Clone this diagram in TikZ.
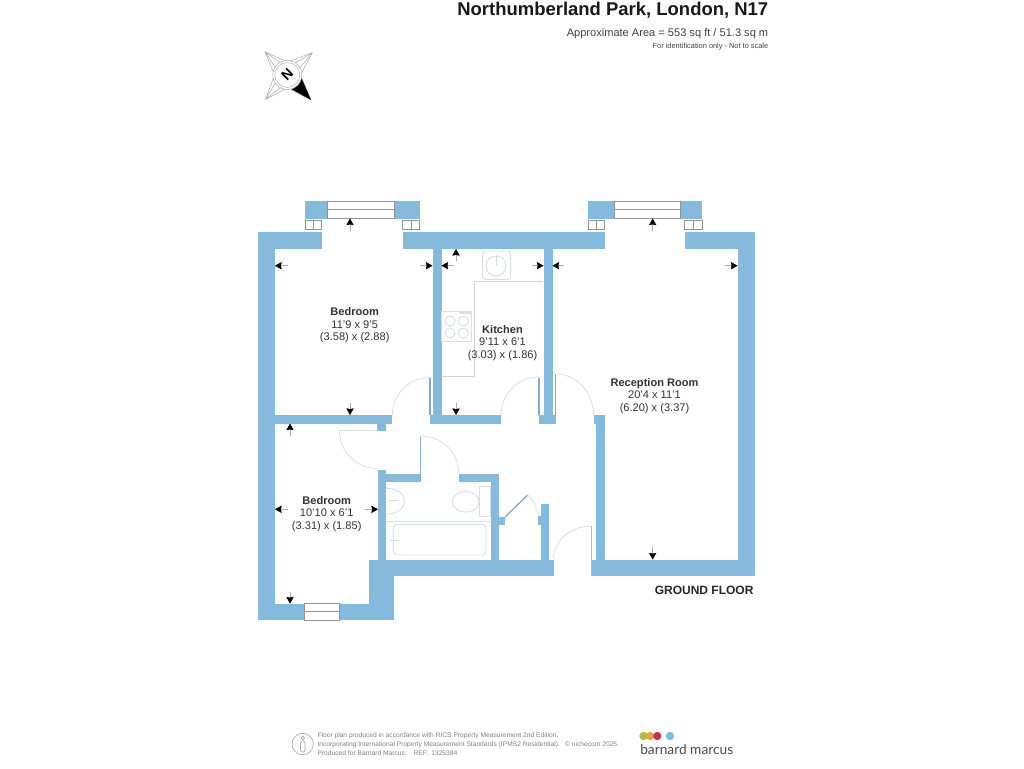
\documentclass[tikz,border=0pt]{standalone}
\usepackage{fontspec}
\setmainfont{Liberation Sans}
\newfontfamily\logofont{Lato}
\usetikzlibrary{arrows.meta}
\definecolor{wallblue}{HTML}{86BADD}
\definecolor{fixline}{HTML}{D5DFE8}
\definecolor{footgray}{HTML}{808080}
\tikzset{
  wall/.style={fill=wallblue, draw=none},
  win/.style={draw=gray!85, line width=.6pt, fill=white},
  doorarc/.style={draw=fixline, line width=.6pt},
  doorleaf/.style={draw=wallblue!75!gray, line width=.8pt},
  fixture/.style={draw=fixline, line width=.7pt},
  dimarrow/.style={draw=gray!65, line width=.35pt, -{Stealth[black,length=5pt,width=5.5pt,inset=.6pt]}},
  roomlabel/.style={align=center, inner sep=0pt, text=black!80, font=\fontsize{8.3}{9.3}\selectfont},
  footline/.style={anchor=west, inner sep=0pt, text=footgray, font=\fontsize{5}{5.5}\selectfont},
  compassline/.style={draw=gray!70, line width=.35pt}
}
\begin{document}
\begin{tikzpicture}[x=.75pt, y=-.75pt]
  \useasboundingbox (0,0) rectangle (1024,768);
  % heading
  \node (title) [anchor=east, inner sep=0pt, font=\fontsize{13.85}{16}\selectfont\bfseries, text=black!90] at (768.5,10) {Northumberland Park, London, N17};
  \node (area) [anchor=east, inner sep=0pt, text=black!75, font=\fontsize{8.3}{10}\selectfont] at (768.5,34) {Approximate Area = 553 sq ft / 51.3 sq m};
  \node (note) [anchor=east, inner sep=0pt, text=black!75, font=\fontsize{5.55}{7}\selectfont] at (768.5,47) {For identification only - Not to scale};
  % compass
  \draw[compassline, fill=white] (265,51.7) -- (287.3,62) -- (312.3,52.7) -- (300.5,75) -- (311,100) -- (287.3,88) -- (265.7,99.3) -- (274.5,75) -- cycle;
  \draw[compassline] (265,51.7) -- (280,75) (265,51.7) -- (287.3,68) (312.3,52.7) -- (294,75) (312.3,52.7) -- (287.3,68) (265.7,99.3) -- (280,75) (265.7,99.3) -- (287.3,82);
  \fill[black] (311,100) -- (301,77) -- (292,89.5) -- cycle;
  \draw[compassline, fill=white] (287.3,75) circle (14.5);
  \draw[compassline] (287.3,75) circle (12.5);
  \node (north) [rotate=45, inner sep=0pt, font=\fontsize{10.5}{11}\selectfont\bfseries] at (287.3,75) {N};
  % walls
  \fill[wall] (258,232) rectangle (322,249);
  \fill[wall] (258,232) rectangle (275,620);
  \fill[wall] (305,201) rectangle (327.5,218.5);
  \fill[wall] (394,201) rectangle (419.5,218.5);
  \fill[wall] (402.5,232) rectangle (604.5,249);
  \fill[wall] (588,201) rectangle (614.5,218.5);
  \fill[wall] (680.5,201) rectangle (702,218.5);
  \fill[wall] (684.5,232) rectangle (754.5,249);
  \fill[wall] (737.5,232) rectangle (754.5,576);
  \fill[wall] (432.5,240) rectangle (441.5,423.5);
  \fill[wall] (430,415) rectangle (501,423.5);
  \fill[wall] (543.5,240) rectangle (552.5,423.5);
  \fill[wall] (538.5,415) rectangle (556,423.5);
  \fill[wall] (593.5,415) rectangle (604.5,423.5);
  \fill[wall] (596,415) rectangle (604.5,565);
  \fill[wall] (591.5,559.5) rectangle (754.5,576);
  \fill[wall] (258,603.5) rectangle (394,620);
  \fill[wall] (369,559.5) rectangle (394,620);
  \fill[wall] (369,559.5) rectangle (553.5,576);
  \fill[wall] (275,415) rectangle (391.5,423.5);
  \fill[wall] (377,420) rectangle (385.7,430.5);
  \fill[wall] (378,469.5) rectangle (385.7,565);
  \fill[wall] (378,473.5) rectangle (420.7,481.7);
  \fill[wall] (458.7,473.5) rectangle (499.3,481.7);
  \fill[wall] (490.7,473.5) rectangle (499.3,565);
  \fill[wall] (495,516.5) rectangle (505,524.7);
  \fill[wall] (540.7,504) rectangle (549.3,565);
  \fill[wall] (537.7,516) rectangle (545,525);
  % windows
  \draw[win] (327.5,201) rectangle (394.3,218.5);
  \draw[win] (327.5,209.5) -- (394.3,209.5);
  \draw[win] (614.5,201) rectangle (680.7,218.5);
  \draw[win] (614.5,209.5) -- (680.7,209.5);
  \draw[win] (304.5,603.5) rectangle (339.3,620);
  \draw[win] (304.5,611.5) -- (339.3,611.5);
  % vents
  \draw[win] (305,220) rectangle (321.7,229.3);
  \draw[win] (313.3,220) -- (313.3,229.3);
  \draw[win] (402.5,220) rectangle (419.5,229.3);
  \draw[win] (411,220) -- (411,229.3);
  \draw[win] (588,220) rectangle (604.5,229.3);
  \draw[win] (596.3,220) -- (596.3,229.3);
  \draw[win] (684.7,220) rectangle (702,229.3);
  \draw[win] (693.3,220) -- (693.3,229.3);
  % doors
  \draw[doorleaf] (430,377.7) -- (430,415);
  \draw[doorarc] (392.4,415) arc[start angle=180, end angle=270, radius=37.6];
  \draw[doorleaf] (539,377.7) -- (539,415);
  \draw[doorarc] (501,415) arc[start angle=180, end angle=270, radius=38];
  \draw[doorleaf] (555.8,374) -- (555.8,415);
  \draw[doorarc] (593.5,415) arc[start angle=0, end angle=-90, x radius=37.7, y radius=41];
  \draw[doorarc] (339.3,430) -- (378,430);
  \draw[doorarc] (339.3,430) arc[start angle=180, end angle=90, radius=38.7];
  \draw[doorleaf] (420.7,436) -- (420.7,481);
  \draw[doorarc] (420.7,436) arc[start angle=-90, end angle=0, x radius=38, y radius=37];
  \draw[doorleaf, line width=1pt] (505,517) -- (527.7,495);
  \draw[doorarc] (527.7,495) .. controls (533,500) and (537,508) .. (538.3,516);
  \draw[draw=gray!55, line width=.5pt] (591.7,526) -- (591.7,576);
  \draw[doorarc] (553.5,559) arc[start angle=180, end angle=270, x radius=38.2, y radius=33];
  % kitchen fittings
  \draw[fixture, draw=gray!35] (543.3,281.7) -- (474.3,281.7) -- (474.3,376.7) -- (441.5,376.7);
  \draw[fixture, rounded corners=2pt] (482.7,251) rectangle (510.7,279.3);
  \draw[fixture] (496,266) circle (10);
  \draw[fixture] (496,255) -- (496,266);
  \draw[fixture] (441.5,311.7) rectangle (471.7,341);
  \draw[fixture] (450,321) circle (5);
  \draw[fixture] (463.3,321) circle (5);
  \draw[fixture] (450,333) circle (5);
  \draw[fixture] (463.3,333) circle (5);
  \fill[fixline] (459,312) rectangle (471,314);
  % bathroom fittings
  \draw[fixture] (386,488.3) .. controls (397,488.3) and (404.3,493) .. (404.3,501) .. controls (404.3,509) and (397,514) .. (386,514);
  \draw[fixture] (388,500) -- (398,500);
  \draw[fixture] (465.7,501.7) ellipse (13.5 and 10.3);
  \draw[fixture, fill=white] (479,486.7) rectangle (490.5,516.7);
  \draw[fixture] (385.7,521) -- (490.7,521);
  \draw[fixture, rounded corners=3pt] (393.3,524.3) rectangle (486,555);
  \draw[fixture] (390,540) -- (399,540);
  % measuring arrows
  \draw[dimarrow] (287.7,265.7) -- (275,265.7);
  \draw[dimarrow] (420,265.7) -- (432.5,265.7);
  \draw[dimarrow] (350,230.7) -- (350,218.5);
  \draw[dimarrow] (350,403) -- (350,415);
  \draw[dimarrow] (454,265.7) -- (441.5,265.7);
  \draw[dimarrow] (532,265.7) -- (543.5,265.7);
  \draw[dimarrow] (456,260.7) -- (456,249);
  \draw[dimarrow] (456,403) -- (456,415);
  \draw[dimarrow] (564,265.7) -- (552.5,265.7);
  \draw[dimarrow] (725,265.7) -- (737.5,265.7);
  \draw[dimarrow] (652.7,230.7) -- (652.7,218.5);
  \draw[dimarrow] (652.7,547) -- (652.7,559.5);
  \draw[dimarrow] (290,435.7) -- (290,423.5);
  \draw[dimarrow] (287.7,509.3) -- (275,509.3);
  \draw[dimarrow] (365,509.3) -- (378,509.3);
  \draw[dimarrow] (290,591.7) -- (290,603.5);
  % rooms
  \node (bedroomA) [roomlabel] at (354.7,325.5) {\textbf{Bedroom}\\11'9 x 9'5\\(3.58) x (2.88)};
  \node (kitchen) [roomlabel] at (502.5,343) {\textbf{Kitchen}\\9'11 x 6'1\\(3.03) x (1.86)};
  \node (reception) [roomlabel] at (654.5,396) {\textbf{Reception Room}\\20'4 x 11'1\\(6.20) x (3.37)};
  \node (bedroomB) [roomlabel] at (326.7,514) {\textbf{Bedroom}\\10'10 x 6'1\\(3.31) x (1.85)};
  \node (floor) [anchor=east, inner sep=0pt, text=black!85, font=\fontsize{9}{11}\selectfont\bfseries] at (753.7,590) {GROUND FLOOR};
  % footer
  \draw[draw=gray!70, line width=.5pt] (302.7,744) circle (10.7);
  \draw[draw=gray!70, line width=.5pt] (302.7,738) circle (1.9);
  \draw[draw=gray!70, line width=.5pt, rounded corners=1.5pt] (300.5,741) rectangle (305,752);
  \node (footA) [footline] at (317.3,736.2) {Floor plan produced in accordance with RICS Property Measurement 2nd Edition,};
  \node (footB) [footline] at (317.3,744.5) {Incorporating International Property Measurement Standards (IPMS2 Residential).\hspace{4pt}© nichecom 2025.};
  \node (footC) [footline] at (317.3,752.8) {Produced for Barnard Marcus.\hspace{5pt}REF:\hspace{2pt}1325384};
  \fill[color={rgb,255:red,170;green,190;blue,80}] (643.5,736) circle (4.2);
  \fill[color={rgb,255:red,235;green,165;blue,60}] (650,736) circle (4.2);
  \fill[color={rgb,255:red,195;green,50;blue,85}] (657.3,736) circle (4.2);
  \fill[color={rgb,255:red,130;green,185;blue,225}] (670,736) circle (4.2);
  \node (logo) [anchor=west, inner sep=0pt, text=black!70, font=\logofont\fontsize{10.3}{13}\selectfont] at (640,749.5) {barnard marcus};
\end{tikzpicture}
\end{document}
